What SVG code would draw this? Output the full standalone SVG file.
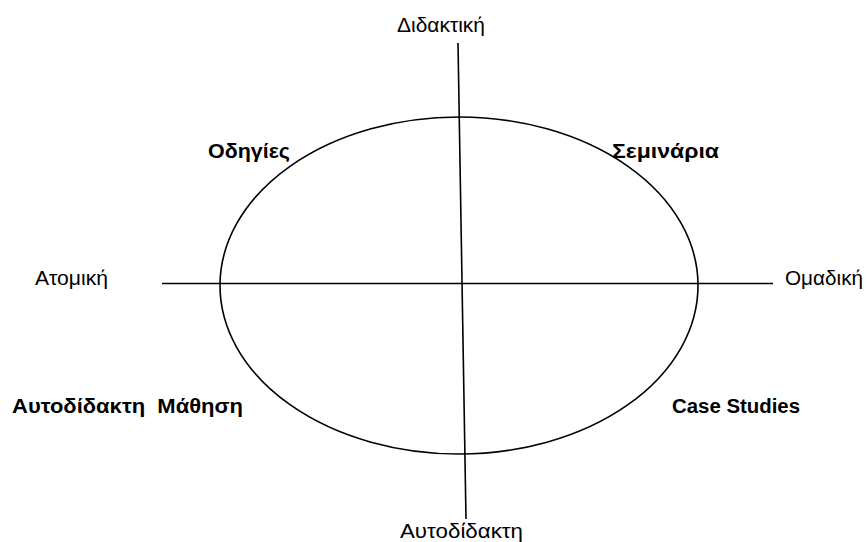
<svg xmlns="http://www.w3.org/2000/svg" width="867" height="542" viewBox="0 0 867 542">
<style>
.ln{fill:none;stroke:#000;stroke-width:1.6}
.t{font-family:"Liberation Sans",Arial,sans-serif;font-size:20px;fill:#000}
.b{font-weight:bold;white-space:pre}
</style>
<rect width="867" height="542" fill="#fff"/>
<g id="ellipse"><ellipse class="ln" cx="459" cy="285.5" rx="239" ry="168.5"/></g>
<g id="connectors">
<line class="ln" x1="458" y1="43" x2="466" y2="519"/>
<line class="ln" x1="162" y1="283.5" x2="773" y2="283.5"/>
</g>
<g id="axis-top"><text class="t" x="397" y="32" textLength="88" lengthAdjust="spacingAndGlyphs">Διδακτική</text></g>
<g id="axis-bottom"><text class="t" x="400" y="538" textLength="123" lengthAdjust="spacingAndGlyphs">Αυτοδίδακτη</text></g>
<g id="axis-left"><text class="t" x="35" y="285" textLength="73" lengthAdjust="spacingAndGlyphs">Ατομική</text></g>
<g id="axis-right"><text class="t" x="785" y="285" textLength="78" lengthAdjust="spacingAndGlyphs">Ομαδική</text></g>
<g id="q1"><text class="t b" x="208" y="158" textLength="82" lengthAdjust="spacingAndGlyphs">Οδηγίες</text></g>
<g id="q2"><text class="t b" x="612" y="158" textLength="107" lengthAdjust="spacingAndGlyphs">Σεμινάρια</text></g>
<g id="q3"><text class="t b" x="12" y="413" xml:space="preserve" textLength="231" lengthAdjust="spacingAndGlyphs">Αυτοδίδακτη  Μάθηση</text></g>
<g id="q4"><text class="t b" x="672" y="413" textLength="128" lengthAdjust="spacingAndGlyphs">Case Studies</text></g>
</svg>
